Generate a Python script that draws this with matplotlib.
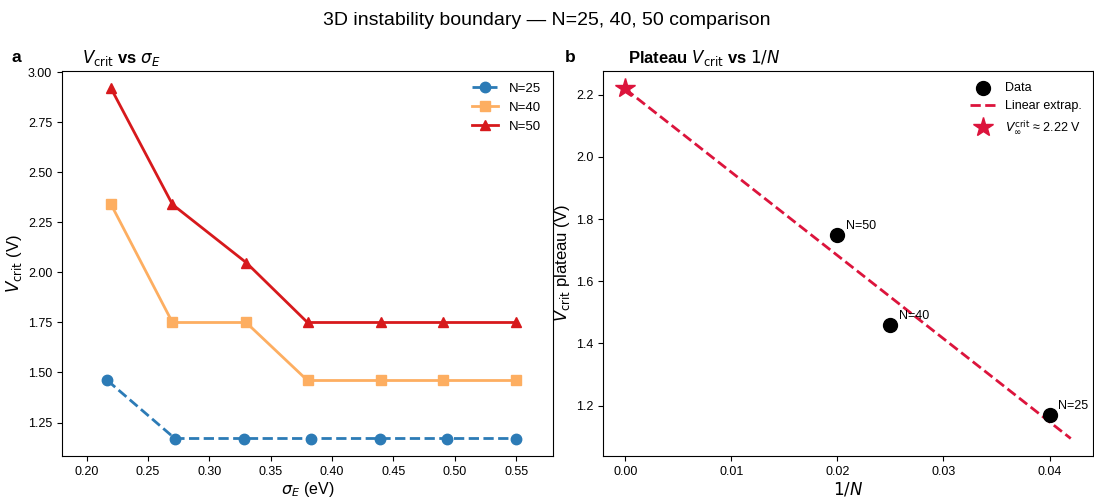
import numpy as np
import matplotlib
matplotlib.use("Agg")
import matplotlib.pyplot as plt

plt.rcParams['font.family'] = ['Liberation Sans', 'DejaVu Sans']
plt.rcParams['font.size'] = 9
plt.rcParams['xtick.labelsize'] = 9
plt.rcParams['ytick.labelsize'] = 9

# panel a data
sigma_25 = [0.217, 0.272, 0.328, 0.383, 0.439, 0.494, 0.55]
sigma_4050 = [0.22, 0.27, 0.33, 0.38, 0.44, 0.49, 0.55]
v_25 = [1.46, 1.17, 1.17, 1.17, 1.17, 1.17, 1.17]
v_40 = [2.34, 1.75, 1.75, 1.46, 1.46, 1.46, 1.46]
v_50 = [2.92, 2.34, 2.05, 1.75, 1.75, 1.75, 1.75]

# panel b data
n_vals = [50, 40, 25]
plateau = [1.75, 1.46, 1.17]
v_inf = 2.22

fig = plt.figure(figsize=(10.94, 5.0), dpi=100)
ax1 = fig.add_axes([62 / 1094, 44 / 500, 491 / 1094, 385 / 500])
ax2 = fig.add_axes([603 / 1094, 44 / 500, 490 / 1094, 385 / 500])

fig.suptitle("3D instability boundary \u2014 N=25, 40, 50 comparison", fontsize=14, y=0.976)

ax1.plot(sigma_25, v_25, '--o', color='#2c7bb6', lw=2, ms=7.5, label='N=25')
ax1.plot(sigma_4050, v_40, '-s', color='#fdae61', lw=2, ms=7.5, label='N=40')
ax1.plot(sigma_4050, v_50, '-^', color='#d7191c', lw=2, ms=7.5, label='N=50')
ax1.set_xlim(0.18, 0.58)
ax1.set_xlabel(r'$\sigma_E$ (eV)', fontsize=11.5, labelpad=1.5)
ax1.set_ylabel(r'$V_\mathrm{crit}$ (V)', fontsize=12, labelpad=3)
ax1.set_title(r'$V_\mathrm{crit}$ vs $\sigma_E$', loc='left', x=0.04,
              fontweight='bold', fontsize=12)
ax1.legend(frameon=False, loc='upper right', fontsize=9.5)

inv_n = 1.0 / np.array(n_vals)
coef = np.polyfit(inv_n, plateau, 1)
xfit = np.linspace(0, 0.042, 50)
ax2.scatter(inv_n, plateau, s=100, color='black', zorder=3, label='Data')
ax2.plot(xfit, np.polyval(coef, xfit), '--', color='#dc143c', lw=2, label='Linear extrap.')
ax2.plot([0], [v_inf], '*', color='#dc143c', ms=15, ls='none',
         label=r'$V_\infty^\mathrm{crit}$ ≈ %.2f V' % v_inf, zorder=4)
for n, x, y in zip(n_vals, inv_n, plateau):
    ax2.annotate(f"N={n}", (x, y), xytext=(6, 4), textcoords='offset points', fontsize=9)
ax2.set_xlabel(r'$1/N$', fontsize=12, labelpad=1.5)
ax2.set_ylabel(r'$V_\mathrm{crit}$ plateau (V)', fontsize=12, labelpad=3)
ax2.set_title(r'Plateau $V_\mathrm{crit}$ vs $1/N$', loc='left', x=0.05,
              fontweight='bold', fontsize=12)
ax2.legend(frameon=False, loc='upper right', fontsize=9)

fig.text(12 / 1094, 1 - 57 / 500, 'a', fontweight='bold', fontsize=12.5, va='center')
fig.text(565 / 1094, 1 - 57 / 500, 'b', fontweight='bold', fontsize=12.5, va='center')

fig.savefig('out.png', dpi=100)
